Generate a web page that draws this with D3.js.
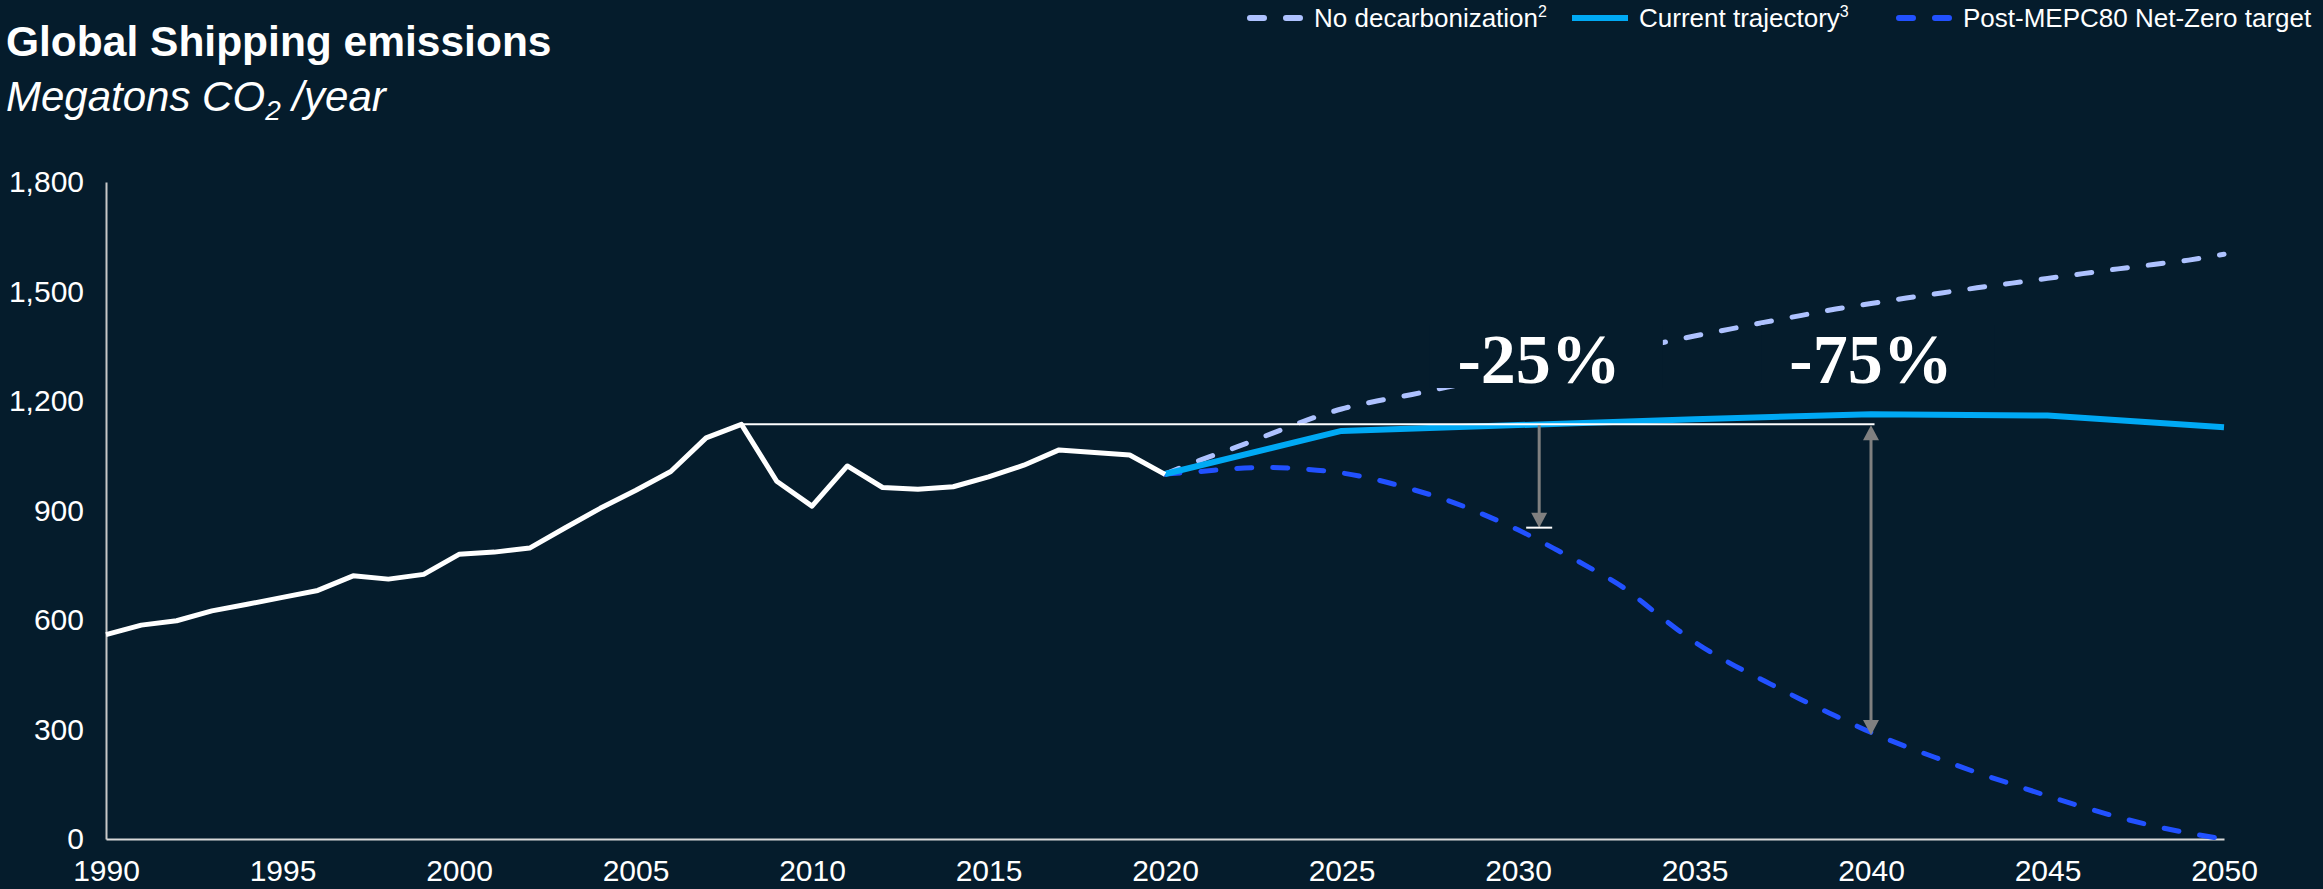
<!DOCTYPE html>
<html><head><meta charset="utf-8">
<script src="https://cdn.jsdelivr.net/npm/d3@7"></script>
<style>
html,body{margin:0;padding:0;background:#051C2C;}
svg{display:block;}
text{fill:#fff;}
</style></head><body>
<svg id="chart" width="2323" height="889"></svg>
<script>
// ---- data ----
const histYears = d3.range(1990, 2021);
const histValues = [560,586,598,625,643,662,681,721,712,725,780,786,797,852,906,955,1007,1099,1136,980,912,1022,963,958,965,992,1024,1066,1059,1052,999];

const projYears = d3.range(2020, 2051);
const noDecarbValues = [1000,1038,1073,1110,1147,1178,1200,1218,1238,1258,1278,1298,1318,1339,1358,1378,1397,1416,1434,1452,1467,1482,1496,1510,1523,1536,1549,1562,1574,1586,1602];
const netZeroValues = [1000,1007,1015,1018,1013,1003,984,958,928,890,847,797,745,688,612,540,482,432,383,337,292,253,217,182,150,118,88,60,36,16,0];

const currentYears = [2020,2025,2030,2035,2040,2045,2050];
const currentValues = [1000,1118,1134,1150,1164,1160,1128];

const refLevel = 1136;           // 2008 peak
const refStartYear = 2008, refEndYear = 2040.1;
const annotYears = [2030.6, 2040];
const annotBottoms = [853, 285];
const annotLabels = ["-25%", "-75%"];

const xTicks = [1990,1995,2000,2005,2010,2015,2020,2025,2030,2035,2040,2045,2050];
const yTicks = [0,300,600,900,1200,1500,1800];

const seriesNames = ["No decarbonization","Current trajectory","Post-MEPC80 Net-Zero target"];
const seriesSup = ["2","3",""];
const seriesColors = ["#AEC2FF","#00A9F4","#2251FF"];
const bg = "#051C2C";

// ---- layout ----
const SANS = "'Liberation Sans', Arial, sans-serif";
const SERIF = "'Liberation Serif', 'Times New Roman', serif";
const svg = d3.select("#chart").style("font-family", SANS);
const L = 106, R = 2224, T = 182, B = 839;
const x = d3.scaleLinear().domain([1990,2050]).range([L,R]);
const y = d3.scaleLinear().domain([0,1800]).range([B,T]);

// title
svg.append("text").attr("x",6).attr("y",56).style("font-family",SANS).attr("font-size",42.5).attr("font-weight","bold").text("Global Shipping emissions");
const sub = svg.append("text").attr("x",6).attr("y",111).style("font-family",SANS).attr("font-size",42).attr("font-style","italic");
sub.append("tspan").text("Megatons CO");
sub.append("tspan").attr("font-size",28).attr("dy",9).text("2");
sub.append("tspan").attr("dy",-9).text(" /year");

// axes
const yAxis = svg.append("g").attr("transform",`translate(${L},0)`)
  .call(d3.axisLeft(y).tickValues(yTicks).tickSize(0).tickSizeOuter(0).tickPadding(22).tickFormat(d3.format(",")));
yAxis.selectAll("text").attr("font-size",30).attr("fill","#fff").style("font-family",SANS);
yAxis.select(".domain").attr("stroke","#c8c8c8").attr("stroke-width",2);

const xAxis = svg.append("g").attr("transform",`translate(0,${B})`)
  .call(d3.axisBottom(x).tickValues(xTicks).tickSize(0).tickSizeOuter(0).tickPadding(21).tickFormat(d3.format("d")));
xAxis.selectAll("text").attr("font-size",30).attr("fill","#fff").style("font-family",SANS);
xAxis.select(".domain").attr("stroke","#d8d8d8").attr("stroke-width",2);

const line = d3.line().x(d=>x(d[0])).y(d=>y(d[1]));
const smooth = d3.line().x(d=>x(d[0])).y(d=>y(d[1])).curve(d3.curveMonotoneX);

// no decarbonization
svg.append("path").datum(projYears.map((yr,i)=>[yr,noDecarbValues[i]]))
  .attr("d",smooth).attr("fill","none").attr("stroke",seriesColors[0]).attr("stroke-width",5)
  .attr("stroke-dasharray","15 21").attr("stroke-linecap","round");

// net zero
svg.append("path").datum(projYears.map((yr,i)=>[yr,netZeroValues[i]]))
  .attr("d",smooth).attr("fill","none").attr("stroke",seriesColors[2]).attr("stroke-width",5)
  .attr("stroke-dasharray","15 21").attr("stroke-linecap","round");

// current trajectory
svg.append("path").datum(currentYears.map((yr,i)=>[yr,currentValues[i]]))
  .attr("d",line).attr("fill","none").attr("stroke",seriesColors[1]).attr("stroke-width",6)
  .attr("stroke-linejoin","round");

// historical
svg.append("path").datum(histYears.map((yr,i)=>[yr,histValues[i]]))
  .attr("d",line).attr("fill","none").attr("stroke","#fff").attr("stroke-width",5)
  .attr("stroke-linejoin","round");

// reference line
svg.append("line").attr("x1",x(refStartYear)).attr("x2",x(refEndYear))
  .attr("y1",y(refLevel)).attr("y2",y(refLevel)).attr("stroke","#fff").attr("stroke-width",2);

// arrows
const gray = "#808080";
function head(cx, cy, dir){ // dir 1 = down, -1 = up (tip at cy)
  const w=8, h=15;
  svg.append("path").attr("d",`M${cx},${cy} L${cx-w},${cy-dir*h} L${cx+w},${cy-dir*h} Z`).attr("fill",gray);
}
{
  const ax = x(annotYears[0]), y0 = y(refLevel)+1, y1 = y(annotBottoms[0]);
  svg.append("line").attr("x1",ax).attr("x2",ax).attr("y1",y0).attr("y2",y1-12).attr("stroke",gray).attr("stroke-width",3);
  head(ax, y1, 1);
  svg.append("line").attr("x1",ax-13).attr("x2",ax+13).attr("y1",y1).attr("y2",y1).attr("stroke","#fff").attr("stroke-width",2);
}
{
  const ax = x(annotYears[1]), y0 = y(refLevel)+1, y1 = y(annotBottoms[1]);
  svg.append("line").attr("x1",ax).attr("x2",ax).attr("y1",y0+12).attr("y2",y1-12).attr("stroke",gray).attr("stroke-width",3);
  head(ax, y0, -1);
  head(ax, y1, 1);
}

// labels with background masks
annotYears.forEach((yr,i)=>{
  const g = svg.append("g");
  const rect = g.append("rect").attr("fill",bg);
  const t = g.append("text").attr("x",x(yr)).attr("y",383).attr("text-anchor","middle")
    .style("font-family",SERIF).attr("font-weight","bold")
    .attr("font-size",70).text(annotLabels[i]);
  const bb = t.node().getBBox();
  rect.attr("x",bb.x-28).attr("y",bb.y+4).attr("width",bb.width+70).attr("height",bb.height-14);
});

// legend
const lg = svg.append("g");
const legendX = [1247, 1572, 1896];
const ly = 18;
seriesNames.forEach((name,i)=>{
  const lx = legendX[i];
  const solid = i===1;
  lg.append("line").attr("x1",lx+(solid?0:3)).attr("x2",lx+(solid?56:53)).attr("y1",ly).attr("y2",ly)
    .attr("stroke",seriesColors[i]).attr("stroke-width",6).attr("stroke-linecap", solid?"butt":"round")
    .attr("stroke-dasharray", solid?null:"14 22");
  const t = lg.append("text").attr("x",lx+67).attr("y",ly+9).attr("font-size",26).style("font-family",SANS);
  t.append("tspan").text(name);
  if (seriesSup[i]) t.append("tspan").attr("font-size",16).attr("dy",-10).text(seriesSup[i]);
});
</script>
</body></html>
